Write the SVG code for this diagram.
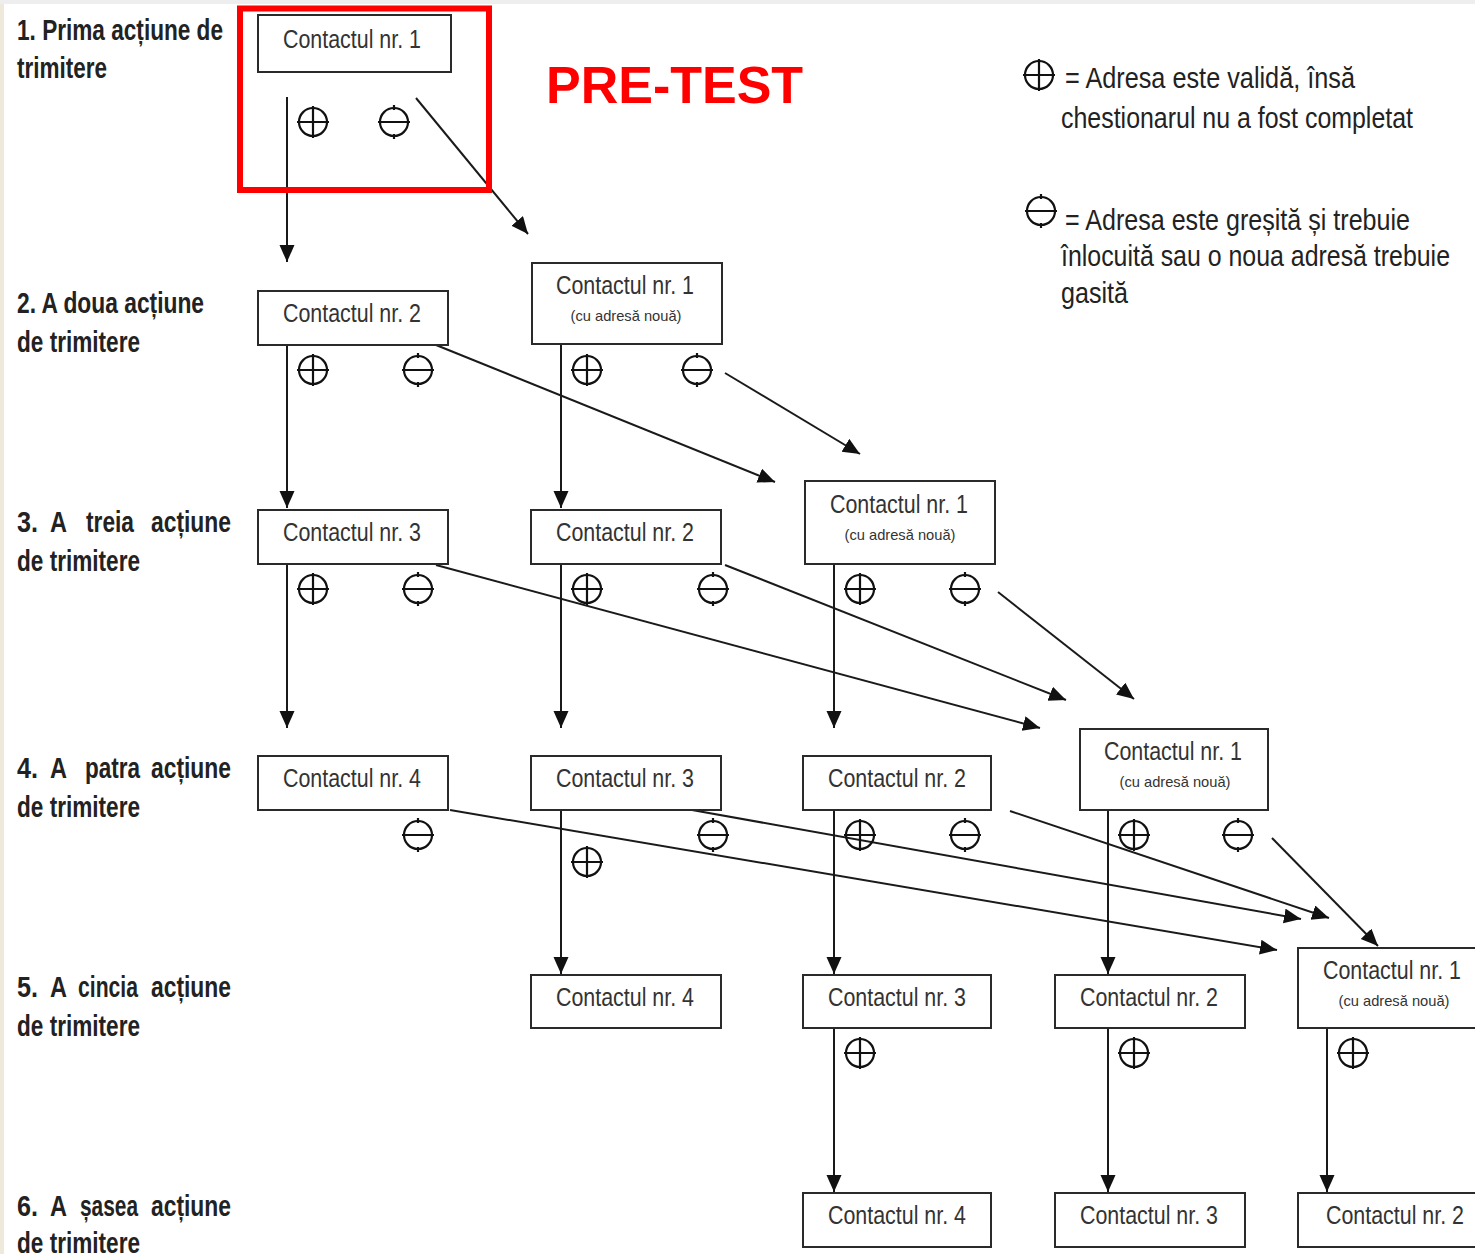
<svg xmlns="http://www.w3.org/2000/svg" width="1475" height="1254" viewBox="0 0 1475 1254">
<style>
.bg{fill:#ffffff}
.box{fill:#ffffff;stroke:#2a2a2a;stroke-width:2}
.t{font-family:"Liberation Sans",Arial,sans-serif;font-size:25px;fill:#333;text-anchor:middle}
.s{font-family:"Liberation Sans",Arial,sans-serif;font-size:15px;fill:#333;text-anchor:middle}
.lab{font-family:"Liberation Sans",Arial,sans-serif;font-size:29px;font-weight:bold;fill:#222}
.leg{font-family:"Liberation Sans",Arial,sans-serif;font-size:30px;fill:#222}
.sym{fill:none;stroke:#111;stroke-width:2.2}
.con{fill:none;stroke:#1a1a1a;stroke-width:2;marker-end:url(#ah)}
.title{font-family:"Liberation Sans",Arial,sans-serif;font-size:52px;font-weight:bold;fill:#ff0000}
</style>
<defs>
<marker id="ah" markerUnits="userSpaceOnUse" markerWidth="18" markerHeight="16" refX="17" refY="7.5" orient="auto" viewBox="0 0 18 16">
<path d="M0,0 L17,7.5 L0,15 z" fill="#111"/>
</marker>
<g id="plus" class="sym"><circle r="14"/><path d="M-16,0H16M0,-16V16"/></g>
<g id="minus" class="sym"><circle r="14"/><path d="M-16,0H16M0,-17V-12M0,12V17"/></g>
</defs>
<rect class="bg" x="0" y="0" width="1475" height="1254"/>
<rect x="0" y="0" width="4" height="1254" fill="#efe9dc"/>
<rect x="0" y="0" width="1475" height="4" fill="#eeeeee"/>

<g id="row-labels">
<text class="lab" x="17" y="40" textLength="206" lengthAdjust="spacingAndGlyphs">1. Prima  acțiune de</text>
<text class="lab" x="17" y="78" textLength="90" lengthAdjust="spacingAndGlyphs">trimitere</text>
<text class="lab" x="17" y="313" textLength="187" lengthAdjust="spacingAndGlyphs">2. A doua acțiune</text>
<text class="lab" x="17" y="352" textLength="123" lengthAdjust="spacingAndGlyphs">de trimitere</text>

<text class="lab" x="17" y="532" textLength="21" lengthAdjust="spacingAndGlyphs">3.</text>
<text class="lab" x="50" y="532" textLength="17" lengthAdjust="spacingAndGlyphs">A</text>
<text class="lab" x="86" y="532" textLength="48" lengthAdjust="spacingAndGlyphs">treia</text>
<text class="lab" x="151" y="532" textLength="80" lengthAdjust="spacingAndGlyphs">acțiune</text>
<text class="lab" x="17" y="571" textLength="123" lengthAdjust="spacingAndGlyphs">de trimitere</text>

<text class="lab" x="17" y="778" textLength="21" lengthAdjust="spacingAndGlyphs">4.</text>
<text class="lab" x="50" y="778" textLength="17" lengthAdjust="spacingAndGlyphs">A</text>
<text class="lab" x="85" y="778" textLength="55" lengthAdjust="spacingAndGlyphs">patra</text>
<text class="lab" x="151" y="778" textLength="80" lengthAdjust="spacingAndGlyphs">acțiune</text>
<text class="lab" x="17" y="817" textLength="123" lengthAdjust="spacingAndGlyphs">de trimitere</text>

<text class="lab" x="17" y="997" textLength="21" lengthAdjust="spacingAndGlyphs">5.</text>
<text class="lab" x="50" y="997" textLength="17" lengthAdjust="spacingAndGlyphs">A</text>
<text class="lab" x="78" y="997" textLength="60" lengthAdjust="spacingAndGlyphs">cincia</text>
<text class="lab" x="151" y="997" textLength="80" lengthAdjust="spacingAndGlyphs">acțiune</text>
<text class="lab" x="17" y="1036" textLength="123" lengthAdjust="spacingAndGlyphs">de trimitere</text>

<text class="lab" x="17" y="1216" textLength="21" lengthAdjust="spacingAndGlyphs">6.</text>
<text class="lab" x="50" y="1216" textLength="17" lengthAdjust="spacingAndGlyphs">A</text>
<text class="lab" x="80" y="1216" textLength="58" lengthAdjust="spacingAndGlyphs">șasea</text>
<text class="lab" x="151" y="1216" textLength="80" lengthAdjust="spacingAndGlyphs">acțiune</text>
<text class="lab" x="17" y="1253" textLength="123" lengthAdjust="spacingAndGlyphs">de trimitere</text>
</g>

<g id="title"><text class="title" x="546" y="103">PRE-TEST</text></g>

<g id="legend">
<use href="#plus" x="1039" y="75"/>
<text class="leg" x="1065" y="88" textLength="290" lengthAdjust="spacingAndGlyphs">= Adresa este  validă, însă</text>
<text class="leg" x="1061" y="128" textLength="352" lengthAdjust="spacingAndGlyphs">chestionarul nu a fost completat</text>
<use href="#minus" x="1041" y="211"/>
<text class="leg" x="1065" y="230" textLength="345" lengthAdjust="spacingAndGlyphs">= Adresa este  greșită și trebuie</text>
<text class="leg" x="1061" y="266" textLength="389" lengthAdjust="spacingAndGlyphs">înlocuită sau o noua adresă trebuie</text>
<text class="leg" x="1061" y="303" textLength="67" lengthAdjust="spacingAndGlyphs">gasită</text>
</g>

<g id="connectors">
<line class="con" x1="287" y1="97" x2="287" y2="262"/>
<line class="con" x1="287" y1="345" x2="287" y2="508"/>
<line class="con" x1="287" y1="564" x2="287" y2="728"/>
<line class="con" x1="561" y1="344" x2="561" y2="508"/>
<line class="con" x1="561" y1="564" x2="561" y2="728"/>
<line class="con" x1="561" y1="810" x2="561" y2="974"/>
<line class="con" x1="834" y1="564" x2="834" y2="728"/>
<line class="con" x1="834" y1="810" x2="834" y2="974"/>
<line class="con" x1="834" y1="1028" x2="834" y2="1192"/>
<line class="con" x1="1108" y1="810" x2="1108" y2="974"/>
<line class="con" x1="1108" y1="1028" x2="1108" y2="1192"/>
<line class="con" x1="1327" y1="1028" x2="1327" y2="1192"/>
<line class="con" x1="416" y1="98" x2="528" y2="234"/>
<line class="con" x1="436" y1="345" x2="775" y2="482"/>
<line class="con" x1="725" y1="373" x2="860" y2="454"/>
<line class="con" x1="436" y1="565" x2="1040" y2="728"/>
<line class="con" x1="725" y1="565" x2="1066" y2="700"/>
<line class="con" x1="998" y1="592" x2="1134" y2="699"/>
<line class="con" x1="450" y1="810" x2="1277" y2="950"/>
<line class="con" x1="692" y1="810" x2="1301" y2="919"/>
<line class="con" x1="1010" y1="811" x2="1329" y2="918"/>
<line class="con" x1="1272" y1="838" x2="1378" y2="946"/>
</g>

<g id="pretest-frame"><rect x="240" y="8.5" width="249" height="181.5" fill="none" stroke="#ff0000" stroke-width="6"/></g>

<g id="r1-c1">
<rect class="box" x="258" y="15" width="193" height="57"/>
<text class="t" x="352" y="48" textLength="138" lengthAdjust="spacingAndGlyphs">Contactul nr. 1</text>
<use href="#plus" x="313" y="122"/><use href="#minus" x="394" y="122"/>
</g>

<g id="r2-c2">
<rect class="box" x="258" y="291" width="190" height="54"/>
<text class="t" x="352" y="322" textLength="138" lengthAdjust="spacingAndGlyphs">Contactul nr. 2</text>
<use href="#plus" x="313" y="370"/><use href="#minus" x="418" y="370"/>
</g>
<g id="r2-c1new">
<rect class="box" x="532" y="263" width="190" height="81"/>
<text class="t" x="625" y="294" textLength="138" lengthAdjust="spacingAndGlyphs">Contactul nr. 1</text>
<text class="s" x="626" y="321" textLength="111" lengthAdjust="spacingAndGlyphs">(cu adresă nouă)</text>
<use href="#plus" x="587" y="370"/><use href="#minus" x="697" y="370"/>
</g>

<g id="r3-c3">
<rect class="box" x="258" y="510" width="190" height="54"/>
<text class="t" x="352" y="541" textLength="138" lengthAdjust="spacingAndGlyphs">Contactul nr. 3</text>
<use href="#plus" x="313" y="589"/><use href="#minus" x="418" y="589"/>
</g>
<g id="r3-c2">
<rect class="box" x="531" y="510" width="190" height="54"/>
<text class="t" x="625" y="541" textLength="138" lengthAdjust="spacingAndGlyphs">Contactul nr. 2</text>
<use href="#plus" x="587" y="589"/><use href="#minus" x="713" y="589"/>
</g>
<g id="r3-c1new">
<rect class="box" x="805" y="481" width="190" height="83"/>
<text class="t" x="899" y="513" textLength="138" lengthAdjust="spacingAndGlyphs">Contactul nr. 1</text>
<text class="s" x="900" y="540" textLength="111" lengthAdjust="spacingAndGlyphs">(cu adresă nouă)</text>
<use href="#plus" x="860" y="589"/><use href="#minus" x="965" y="589"/>
</g>

<g id="r4-c4">
<rect class="box" x="258" y="756" width="190" height="54"/>
<text class="t" x="352" y="787" textLength="138" lengthAdjust="spacingAndGlyphs">Contactul nr. 4</text>
<use href="#minus" x="418" y="835"/>
</g>
<g id="r4-c3">
<rect class="box" x="531" y="756" width="190" height="54"/>
<text class="t" x="625" y="787" textLength="138" lengthAdjust="spacingAndGlyphs">Contactul nr. 3</text>
<use href="#plus" x="587" y="862"/><use href="#minus" x="713" y="835"/>
</g>
<g id="r4-c2">
<rect class="box" x="803" y="756" width="188" height="54"/>
<text class="t" x="897" y="787" textLength="138" lengthAdjust="spacingAndGlyphs">Contactul nr. 2</text>
<use href="#plus" x="860" y="835"/><use href="#minus" x="965" y="835"/>
</g>
<g id="r4-c1new">
<rect class="box" x="1080" y="729" width="188" height="81"/>
<text class="t" x="1173" y="760" textLength="138" lengthAdjust="spacingAndGlyphs">Contactul nr. 1</text>
<text class="s" x="1175" y="787" textLength="111" lengthAdjust="spacingAndGlyphs">(cu adresă nouă)</text>
<use href="#plus" x="1134" y="835"/><use href="#minus" x="1238" y="835"/>
</g>

<g id="r5-c4">
<rect class="box" x="531" y="975" width="190" height="53"/>
<text class="t" x="625" y="1006" textLength="138" lengthAdjust="spacingAndGlyphs">Contactul nr. 4</text>
</g>
<g id="r5-c3">
<rect class="box" x="803" y="975" width="188" height="53"/>
<text class="t" x="897" y="1006" textLength="138" lengthAdjust="spacingAndGlyphs">Contactul nr. 3</text>
<use href="#plus" x="860" y="1053"/>
</g>
<g id="r5-c2">
<rect class="box" x="1055" y="975" width="190" height="53"/>
<text class="t" x="1149" y="1006" textLength="138" lengthAdjust="spacingAndGlyphs">Contactul nr. 2</text>
<use href="#plus" x="1134" y="1053"/>
</g>
<g id="r5-c1new">
<rect class="box" x="1298" y="948" width="190" height="80"/>
<text class="t" x="1392" y="979" textLength="138" lengthAdjust="spacingAndGlyphs">Contactul nr. 1</text>
<text class="s" x="1394" y="1006" textLength="111" lengthAdjust="spacingAndGlyphs">(cu adresă nouă)</text>
<use href="#plus" x="1353" y="1053"/>
</g>

<g id="r6-c4">
<rect class="box" x="803" y="1193" width="188" height="54"/>
<text class="t" x="897" y="1224" textLength="138" lengthAdjust="spacingAndGlyphs">Contactul nr. 4</text>
</g>
<g id="r6-c3">
<rect class="box" x="1055" y="1193" width="190" height="54"/>
<text class="t" x="1149" y="1224" textLength="138" lengthAdjust="spacingAndGlyphs">Contactul nr. 3</text>
</g>
<g id="r6-c2">
<rect class="box" x="1298" y="1193" width="190" height="54"/>
<text class="t" x="1395" y="1224" textLength="138" lengthAdjust="spacingAndGlyphs">Contactul nr. 2</text>
</g>
</svg>
